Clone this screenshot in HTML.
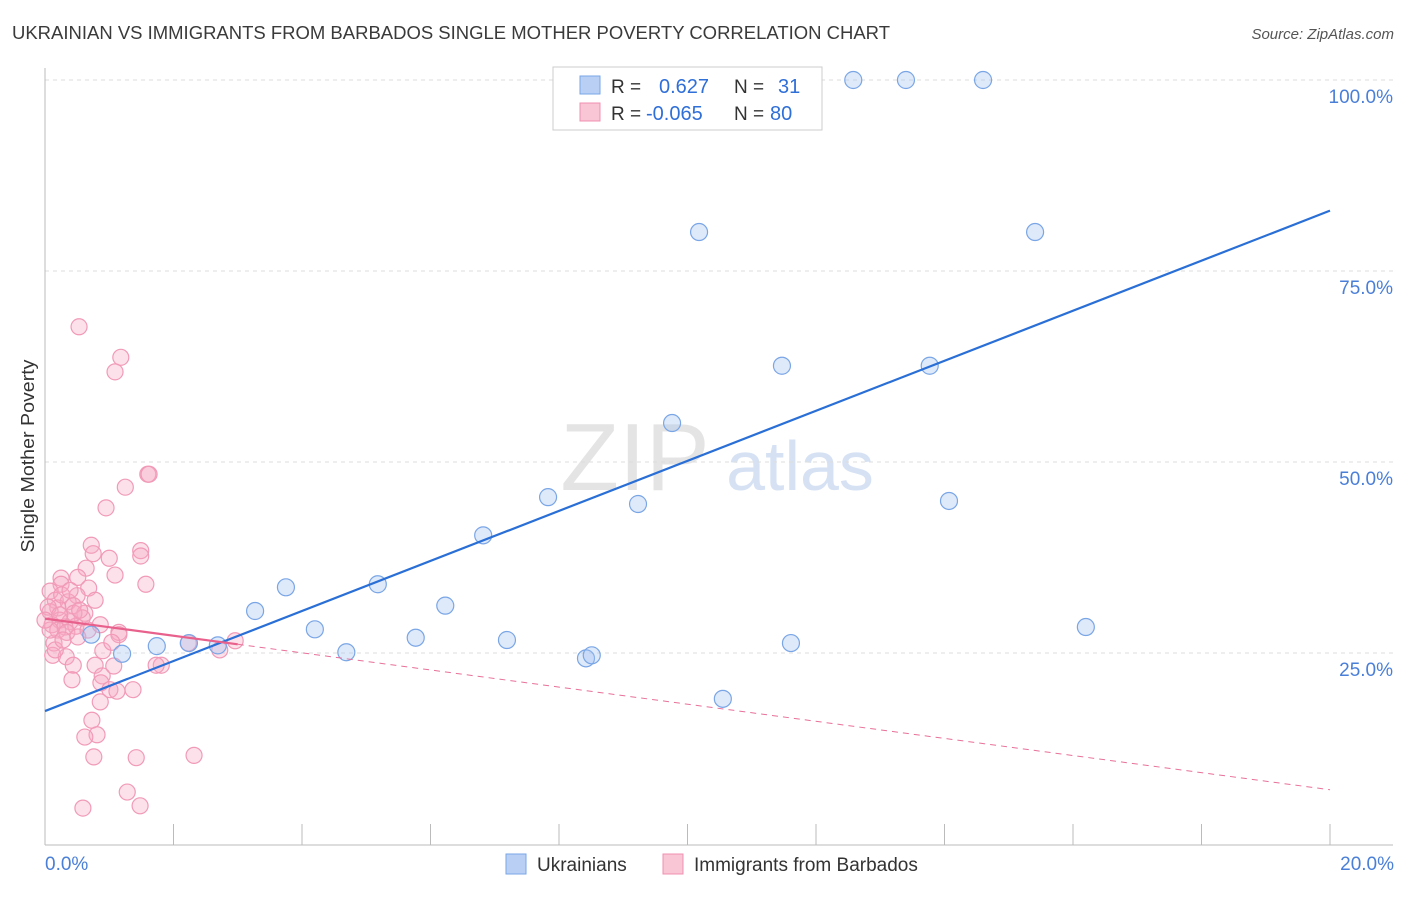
<!DOCTYPE html>
<html><head><meta charset="utf-8"><style>
body{margin:0;background:#fff;font-family:"Liberation Sans",sans-serif;}
svg text{font-family:"Liberation Sans",sans-serif;}
</style></head><body>
<svg id="chart" width="1406" height="892" viewBox="0 0 1406 892" xmlns="http://www.w3.org/2000/svg">
<text x="12" y="39" font-size="18" fill="#3a3a3a" textLength="878" lengthAdjust="spacingAndGlyphs">UKRAINIAN VS IMMIGRANTS FROM BARBADOS SINGLE MOTHER POVERTY CORRELATION CHART</text>
<text x="1394" y="39" font-size="15" fill="#555" text-anchor="end" font-style="italic">Source: ZipAtlas.com</text>
<text transform="translate(34,456) rotate(-90)" font-size="18" fill="#333" text-anchor="middle" textLength="193" lengthAdjust="spacingAndGlyphs">Single Mother Poverty</text>
<g><text x="635" y="490" font-size="96" fill="#e4e4e4" font-family="Liberation Serif" text-anchor="middle">ZIP</text><text x="800" y="490" font-size="70" fill="#d6e2f4" text-anchor="middle">atlas</text></g>
<g id="grid"></g><g id="axes"></g><g id="pts"></g><g id="trend"></g>
<g>
<rect x="553" y="67" width="269" height="63" fill="#fff" stroke="#ccc"/>
<rect x="580" y="76" width="20" height="18" fill="#b9d0f4" stroke="#7aa6e6"/>
<rect x="580" y="103" width="20" height="18" fill="#f9c6d6" stroke="#f08fb0"/>
<text x="611" y="93" font-size="19" fill="#333">R =</text><text x="659" y="93" font-size="20" fill="#2f6fd8">0.627</text>
<text x="734" y="93" font-size="19" fill="#333">N =</text><text x="778" y="93" font-size="20" fill="#2f6fd8">31</text>
<text x="611" y="120" font-size="19" fill="#333">R =</text><text x="646" y="120" font-size="20" fill="#2f6fd8">-0.065</text>
<text x="734" y="120" font-size="19" fill="#333">N =</text><text x="770" y="120" font-size="20" fill="#2f6fd8">80</text>
</g>
<g>
<rect x="506" y="854" width="20" height="20" fill="#b9d0f4" stroke="#7aa6e6"/>
<text x="537" y="871" font-size="19" fill="#333">Ukrainians</text>
<rect x="663" y="854" width="20" height="20" fill="#f9c6d6" stroke="#f08fb0"/>
<text x="694" y="871" font-size="19" fill="#333">Immigrants from Barbados</text>
</g>
</svg>
<script>
const xTicks=[0,20];
const yTicks=[25,50,75,100];
const blueX=[0.72,1.2,1.74,2.24,2.69,3.27,3.75,4.2,4.69,5.18,5.77,6.23,6.82,7.19,7.83,8.42,8.51,9.23,9.76,10.18,10.55,11.47,11.61,12.58,13.4,13.77,14.07,14.6,15.41,16.2];
const blueY=[27.4,24.9,25.9,26.3,26.0,30.5,33.6,28.1,25.1,34.0,27.0,31.2,40.4,26.7,45.4,24.3,24.7,44.5,55.1,80.1,19.0,62.6,26.3,100,100,62.6,44.9,100,80.1,28.4];
const pinkX=[0.53,1.18,1.09,1.6,1.25,0.95,0.72,1.49,0.75,1.0,1.49,0.64,1.09,0.25,0.51,1.57,0.25,0.68,0.08,0.5,0.16,0.36,0.44,0.2,0.62,0.08,0.58,0.23,0.39,0.11,0.31,0.48,0.2,0.34,1.15,0.51,1.15,0.14,2.23,2.96,2.72,0.12,0.33,0.9,0.78,1.07,1.81,1.73,0.44,0.89,0.42,0.87,1.01,1.37,1.12,0.86,0.73,0.81,0.62,1.42,0.76,2.32,1.28,1.48,0.59,0.05,0.08,0.16,0.26,0.45,0.67,0.28,1.04,0.54,0.78,0.39,0.23,0.86,0.0,1.62];
const pinkY=[67.7,63.7,61.8,48.4,46.7,44.0,39.1,38.4,38.0,37.4,37.7,36.1,35.2,34.8,34.9,34.0,34.0,33.5,33.1,32.5,31.9,31.7,31.2,30.9,30.2,30.4,29.6,29.3,29.1,28.7,28.4,28.5,28.0,27.7,27.7,27.1,27.4,26.3,26.3,26.6,25.4,24.7,24.5,25.3,23.4,23.3,23.4,23.4,23.4,22.0,21.5,21.1,20.2,20.2,20.0,18.6,16.2,14.3,14.0,11.3,11.4,11.6,6.8,5.0,4.7,31.0,28.0,25.4,32.6,30.2,28.0,26.7,26.4,30.6,31.9,33.2,30.0,28.7,29.3,48.4];
const blueTrend=[17.4,82.9];
const pinkTrend=[29.5,7.1];
const pinkSolidEnd=3.0;
const X=v=>45+v/20*1285, Y=v=>844-v*7.64;
const NS="http://www.w3.org/2000/svg";
function mk(p,t,a){const e=document.createElementNS(NS,t);for(const k in a)e.setAttribute(k,a[k]);document.getElementById(p).appendChild(e);return e;}
yTicks.forEach(t=>{
 const l=mk('grid','line',{x1:45,x2:1393,y1:Y(t),y2:Y(t),stroke:'#ddd','stroke-dasharray':'4,4'});
 
 
 const tx=mk('grid','text',{x:1393,y:Y(t)+23,'font-size':19,fill:'#4a7fd8','text-anchor':'end'});
 tx.textContent=t.toFixed(1)+'%';
 
 
});
mk('axes','line',{x1:45,x2:45,y1:68,y2:845,stroke:'#bbb'});
mk('axes','line',{x1:45,x2:1393,y1:845,y2:845,stroke:'#bbb'});
for(let i=0;i<=10;i++){mk('axes','line',{x1:X(i*2),x2:X(i*2),y1:824,y2:845,stroke:'#bbb'});}
xTicks.forEach((t,i)=>{
 const tx=mk('axes','text',{x:i?1394:45,y:870,'font-size':19,fill:'#4a7fd8','text-anchor':i?'end':'start'});
 tx.textContent=t.toFixed(1)+'%';
 
 
});
pinkX.forEach((v,i)=>{
 const c=mk('pts','circle',{cx:X(v),cy:Y(pinkY[i]),r:8,fill:'rgba(246,170,196,0.35)',stroke:'#f19ab8','stroke-width':1.2});
 
 
});
blueX.forEach((v,i)=>{
 const c=mk('pts','circle',{cx:X(v),cy:Y(blueY[i]),r:8.5,fill:'rgba(160,192,240,0.35)',stroke:'#7aa6e6','stroke-width':1.2});
 
 
});
const py=x=>pinkTrend[0]+(pinkTrend[1]-pinkTrend[0])*x/20;
const b=mk('trend','line',{x1:X(0),y1:Y(blueTrend[0]),x2:X(20),y2:Y(blueTrend[1]),stroke:'#2a6fd6','stroke-width':2.2});


const p1=mk('trend','line',{x1:X(0),y1:Y(py(0)),x2:X(pinkSolidEnd),y2:Y(py(pinkSolidEnd)),stroke:'#e8608c','stroke-width':2.2});


const p2=mk('trend','line',{x1:X(pinkSolidEnd),y1:Y(py(pinkSolidEnd)),x2:X(20),y2:Y(py(20)),stroke:'#e8709a','stroke-width':1,'stroke-dasharray':'6,5'});


</script>
</body></html>
